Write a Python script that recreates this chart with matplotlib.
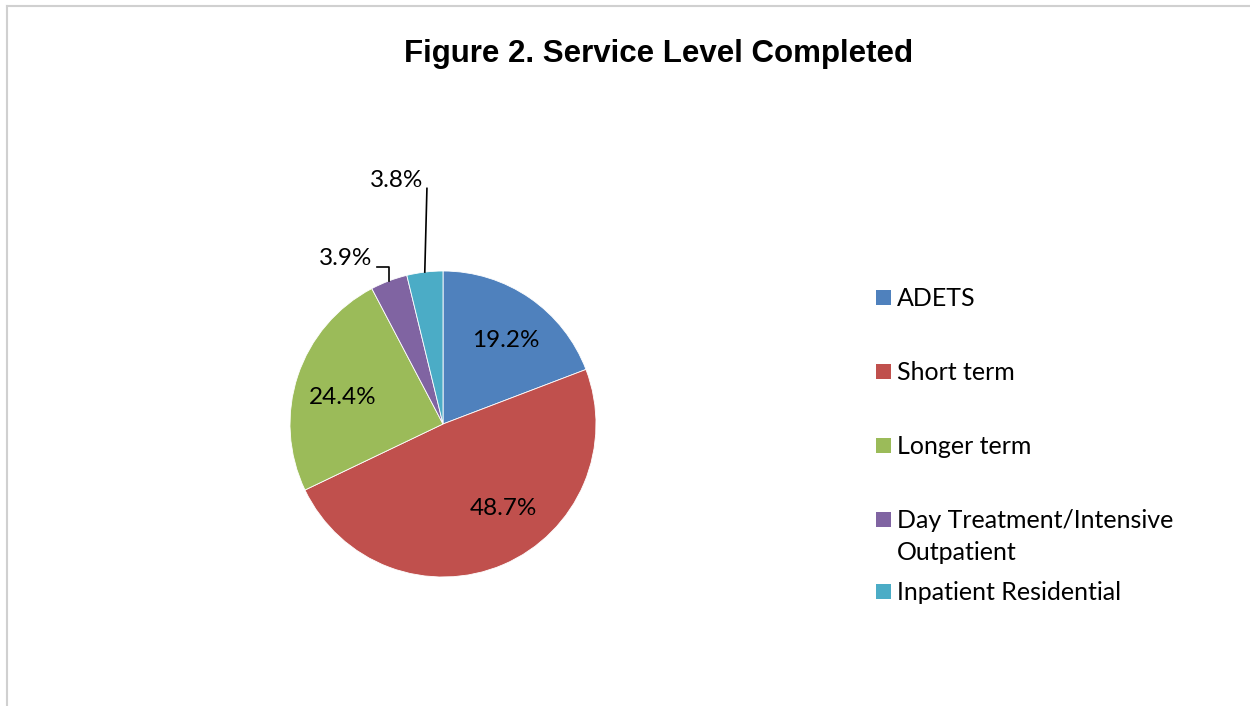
import matplotlib
matplotlib.use("Agg")
import matplotlib.pyplot as plt
import numpy as np
from matplotlib.patches import Rectangle
from matplotlib.lines import Line2D

categories = ["ADETS", "Short term", "Longer term",
              "Day Treatment/Intensive\nOutpatient", "Inpatient Residential"]
shares = [19.2, 48.7, 24.4, 3.9, 3.8]
colors = ["#4F81BD", "#C0504D", "#9BBB59", "#8064A2", "#4BACC6"]

W, H = 1250, 706
fig = plt.figure(figsize=(W / 100, H / 100), dpi=100, facecolor="white")

# light gray chart border (top and left visible)
fig.add_artist(Line2D([7 / W, 7 / W], [0, 1 - 6 / H], transform=fig.transFigure,
                      color="#d0d0d0", lw=1.5))
fig.add_artist(Line2D([7 / W, 1], [1 - 6 / H, 1 - 6 / H], transform=fig.transFigure,
                      color="#d0d0d0", lw=1.5))

fig.text(659 / W, 1 - 54 / H, "Figure 2. Service Level Completed",
         ha="center", va="center", fontsize=22.5, fontweight="bold",
         family="Liberation Sans")

# pie axes: centre (443, 424) px, radius 153 px
cx, cy, r = 443, 424, 153
ax = fig.add_axes([(cx - r) / W, 1 - (cy + r) / H, 2 * r / W, 2 * r / H])
wedges, _ = ax.pie(shares, colors=colors, startangle=90, counterclock=False,
                   wedgeprops=dict(edgecolor="white", linewidth=0.6))
ax.set_xlim(-1, 1)
ax.set_ylim(-1, 1)
ax.set_aspect("equal")
ax.axis("off")

font = "Lato"
# small angular nudges (deg) mimicking Excel's best-fit label placement
nudge = [-2.5, 12, 3.5, 0, 0]
for i, (w, v) in enumerate(zip(wedges, shares)):
    mid = np.deg2rad((w.theta1 + w.theta2) / 2)
    ex, ey = np.cos(mid), np.sin(mid)
    label = f"{v:.1f}%"
    if v > 10:
        a = mid + np.deg2rad(nudge[i])
        ax.text(0.68 * np.cos(a), 0.68 * np.sin(a), label, ha="center",
                va="center", fontsize=17.5, family=font)
    elif i == 3:
        ax.plot([ex, ex, -0.43], [ey, 1.026, 1.026], color="black", lw=1.2,
                clip_on=False)
        ax.text(-0.46, 1.08, label, ha="right", va="center",
                fontsize=17.5, family=font)
    else:
        ax.plot([ex, -0.105], [ey, 1.54], color="black", lw=1.2, clip_on=False)
        ax.text(-0.13, 1.59, label, ha="right", va="center",
                fontsize=17.5, family=font)

# legend
rows_y = [299, 373, 447, 521, 593]
for c, lab, y in zip(colors, categories, rows_y):
    fig.add_artist(Rectangle((876 / W, 1 - (y - 2 + 7.5) / H), 15 / W, 15 / H,
                             transform=fig.transFigure, facecolor=c,
                             edgecolor="none"))
    lines = lab.split("\n")
    for k, line in enumerate(lines):
        fig.text(897 / W, 1 - (y + 31 * k) / H, line, ha="left", va="center",
                 fontsize=18, family=font)

fig.savefig("out.png", dpi=100, facecolor="white")
